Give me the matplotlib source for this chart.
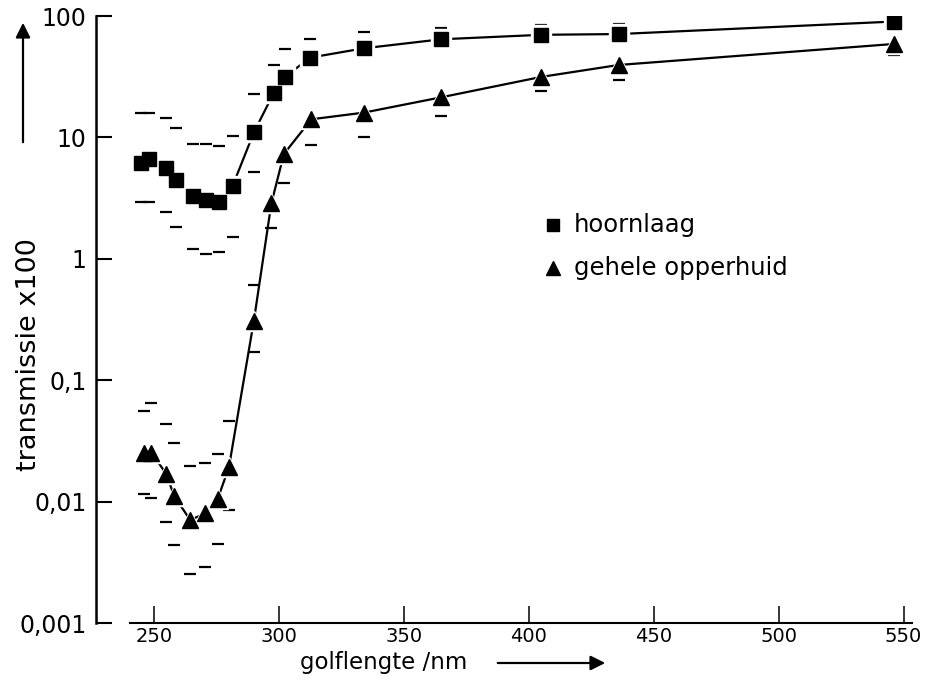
import numpy as np
import matplotlib
matplotlib.use("Agg")
import matplotlib.pyplot as plt
from matplotlib.lines import Line2D
from matplotlib import font_manager as fm

# ---------------- data ----------------
wl_sq = [245, 248, 255, 259, 265.5, 271, 276, 281.5, 290, 298, 302.5, 312.5, 334, 365, 405, 436, 546]
hoornlaag = [6.2, 6.6, 5.6, 4.5, 3.3, 3.05, 2.95, 4.0, 11.0, 23.4, 31.6, 45.4, 54.2, 64.3, 70, 71, 90]
hoornlaag_hi = [15.8, 15.8, 14.5, 12.0, 8.83, 8.83, 8.55, 10.3, 22.8, 39.5, 53.2, 65.0, 74.3, 79.2, 84.3, 86, 99]
hoornlaag_lo = [2.92, 2.92, 2.42, 1.84, 1.20, 1.09, 1.13, 1.50, 5.2, np.nan, np.nan, np.nan,
                np.nan, np.nan, np.nan, np.nan, 80]

wl_tr = [246, 249, 255, 258, 264.5, 270.5, 275.5, 280, 290, 297, 302, 313, 334, 365, 405, 436, 546]
opperhuid = [0.0253, 0.0253, 0.0168, 0.0112, 0.00705, 0.0080, 0.0105, 0.0192, 0.31, 2.87, 7.3,
             14.1, 16.0, 21.4, 31.5, 39.5, 58.8]
opperhuid_hi = [0.0561, 0.0653, 0.0434, 0.0302, 0.0198, 0.0209, 0.0247, 0.0464, 0.61, np.nan, np.nan,
                np.nan, np.nan, np.nan, np.nan, np.nan, np.nan]
opperhuid_lo = [0.01156, 0.01064, 0.00683, 0.00439, 0.00253, 0.00291, 0.00445, 0.00853, 0.17, 1.78, 4.2,
                8.6, 10.1, 15.0, 24.3, 29.7, 47.7]

x_ticks = [250, 300, 350, 400, 450, 500, 550]
y_ticks = [0.001, 0.01, 0.1, 1, 10, 100]
y_ticklabels = ["0,001", "0,01", "0,1", "1", "10", "100"]
labels = ["hoornlaag", "gehele opperhuid"]

# ---------------- figure ----------------
W, H = 928, 686
fig = plt.figure(figsize=(W / 100, H / 100), dpi=100)

x_left, x_right = 226.8, 553.4
ax = fig.add_axes([96 / W, 63 / H, (912 - 96) / W, (623 - 16) / H])
ax.set_yscale("log")
ax.set_xlim(x_left, x_right)
ax.set_ylim(0.001, 100)

for s in ["top", "right"]:
    ax.spines[s].set_visible(False)
ax.spines["left"].set_linewidth(1.8)
ax.spines["bottom"].set_linewidth(1.5)
ax.spines["bottom"].set_bounds(240.4, x_right)

try:
    fm.findfont(fm.FontProperties(family="Liberation Sans Narrow"), fallback_to_default=False)
    xfont = dict(family="Liberation Sans Narrow", size=17)
except Exception:
    xfont = dict(family="DejaVu Sans", size=14)

ax.set_xticks(x_ticks)
ax.set_xticklabels([str(t) for t in x_ticks], **xfont)
ax.set_yticks(y_ticks)
ax.set_yticklabels(y_ticklabels, fontsize=17, family="DejaVu Sans")
ax.yaxis.set_minor_locator(matplotlib.ticker.NullLocator())
ax.tick_params(axis="x", direction="in", length=12.5, width=1.1, pad=3)
ax.tick_params(axis="y", direction="in", length=11.3, width=1.5, pad=7)

# lines
ax.plot(wl_sq, hoornlaag, color="black", lw=1.6, zorder=2)
ax.plot(wl_tr, opperhuid, color="black", lw=1.6, zorder=2)

# error caps (drawn as short dashes)
cap = dict(marker="_", ms=9, mew=1.6, color="black", linestyle="none", zorder=3)
ax.plot(wl_sq, hoornlaag_hi, **cap)
ax.plot(wl_sq, hoornlaag_lo, **cap)
ax.plot(wl_tr, opperhuid_hi, **cap)
ax.plot(wl_tr, opperhuid_lo, **cap)

# markers with white halo
ax.plot(wl_sq, hoornlaag, marker="s", ms=14, color="white", linestyle="none", zorder=4)
ax.plot(wl_tr, opperhuid, marker="^", ms=15, color="white", linestyle="none", zorder=4)
ax.plot(wl_sq, hoornlaag, marker="s", ms=10, color="black", linestyle="none", zorder=5)
ax.plot(wl_tr, opperhuid, marker="^", ms=11, color="black", linestyle="none", zorder=5)

# legend (manual)
fig.add_artist(Line2D([553 / W], [1 - 225 / H], marker="s", ms=9, color="black",
                      linestyle="none", transform=fig.transFigure))
fig.add_artist(Line2D([553 / W], [1 - 268 / H], marker="^", ms=10, color="black",
                      linestyle="none", transform=fig.transFigure))
fig.text(574 / W, 1 - 231.5 / H, labels[0], fontsize=17.5, va="baseline", ha="left")
fig.text(574 / W, 1 - 275 / H, labels[1], fontsize=17.5, va="baseline", ha="left")

# axis labels with arrows
fig.text(29 / W, 1 - 355 / H, "transmissie x100", rotation=90, fontsize=19.5,
         ha="center", va="center")
fig.text(300 / W, 1 - 663 / H, "golflengte /nm", fontsize=16.5, ha="left", va="center")

fig.add_artist(matplotlib.patches.FancyArrowPatch(
    (23 / W, 1 - 145 / H), (23 / W, 1 - 20 / H), transform=fig.transFigure,
    arrowstyle="-|>", mutation_scale=22, lw=1.6, color="black"))
fig.add_artist(matplotlib.patches.FancyArrowPatch(
    (495 / W, 1 - 663 / H), (608 / W, 1 - 663 / H), transform=fig.transFigure,
    arrowstyle="-|>", mutation_scale=22, lw=1.6, color="black"))

fig.savefig("out.png", dpi=100)
